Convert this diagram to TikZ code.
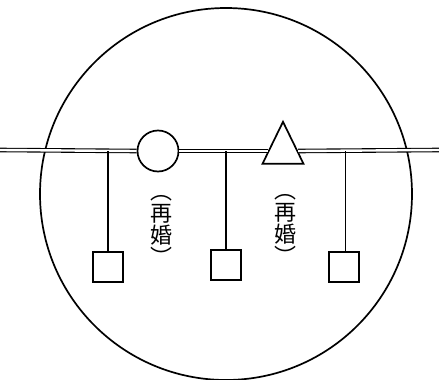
\documentclass[tikz,border=0pt]{standalone}
\usepackage{fontspec}
\newfontfamily\jp{Noto Sans CJK JP}
\usetikzlibrary{shapes.geometric}

\begin{document}
\begin{tikzpicture}[x=1pt, y=-1pt,
  kin/.style={draw, line width=1.7pt, inner sep=0pt},
  child/.style={kin, minimum size=30pt},
  marr/.style={double, double distance=2.4pt, line width=1.1pt},
  drop/.style={line width=1.1pt},
  note/.style={font=\jp\fontsize{22}{22}\selectfont, align=center, inner sep=0pt},
]
  \useasboundingbox (0,0) rectangle (439,380);
  \node[kin, circle, minimum size=372pt] (ring) at (226,194) {};

  \node[kin, circle, minimum size=41pt] (mom) at (158,151) {};
  \node[kin, isosceles triangle, shape border rotate=90, isosceles triangle stretches,
        minimum width=41pt, minimum height=42pt] (dad) at (283,151) {};

  \coordinate (lw) at (0,150);
  \coordinate (le) at (439,150);
  \coordinate (d1) at (108,151);
  \coordinate (d2) at (226,151);
  \coordinate (d3) at (345.5,151);

  \draw[marr] (lw) -- (mom.west);
  \draw[marr] (mom.east) -- (dad.180);
  \draw[marr] (dad.0) -- (le);

  % children
  \node[child] (c1) at (108,267) {};
  \node[child] (c2) at (226,265) {};
  \node[child] (c3) at (344,267) {};

  \draw[drop] (d1) -- (c1.north);
  \draw[drop] (d2) -- (c2.north);
  \draw[drop] (d3) -- (d3 |- c3.north);

  % Annotations
  \node[note] (n1) at (161,230) {︵\\再\\婚\\︶};
  \node[note] (n2) at (285,229) {︵\\再\\婚\\︶};
\end{tikzpicture}
\end{document}
